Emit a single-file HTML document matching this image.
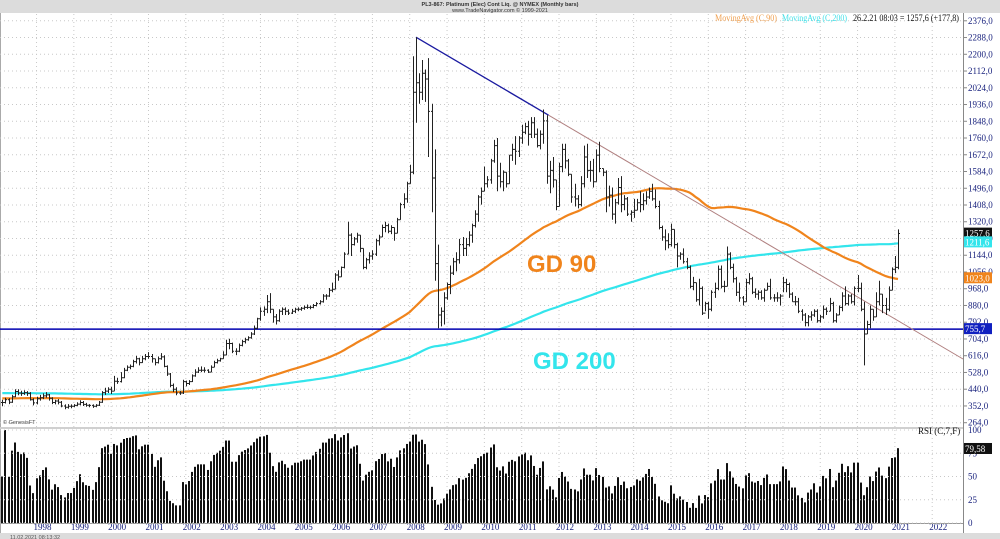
<!DOCTYPE html>
<html><head><meta charset="utf-8">
<style>
body{margin:0;background:#fff;font-family:"Liberation Sans",sans-serif;}
#wrap{position:relative;width:1000px;height:539px;overflow:hidden;background:#fff}
svg{position:absolute;left:0;top:0}
</style></head>
<body>
<div id="wrap">
<svg id="chart" width="1000" height="539"></svg>
</div>
<script>
// ---- data (monthly, Feb 1997 .. Feb 2021) ----
const startYear = 1997, startMonth = 1; // Feb 1997
const closes = [
370,385,372,400,428,420,418,422,418,385,368,
390,395,405,410,392,370,378,372,352,345,350,350,
355,362,370,360,356,355,350,356,372,422,430,440,
430,482,480,500,540,555,560,585,600,580,600,612,
612,600,580,600,610,560,520,460,440,420,420,480,
470,480,510,530,540,540,540,530,555,580,590,600,
620,680,680,640,640,670,690,700,710,730,760,810,
850,860,900,860,820,800,850,860,850,840,850,860,
860,865,870,870,870,880,890,900,930,930,960,965,
1040,1030,1080,1150,1250,1200,1230,1250,1180,1080,1120,1140,
1150,1220,1240,1290,1300,1270,1290,1260,1330,1410,1440,1520,
1580,2000,2050,2000,2100,2070,1900,1550,1100,830,850,920,
990,1050,1110,1120,1200,1180,1200,1250,1300,1360,1450,1480,
1520,1540,1640,1720,1560,1530,1580,1520,1670,1700,1690,1760,
1790,1820,1780,1840,1780,1720,1780,1850,1560,1590,1540,1400,
1610,1700,1640,1570,1450,1440,1410,1520,1660,1590,1590,1530,
1670,1600,1580,1450,1460,1360,1420,1500,1410,1440,1360,1370,
1380,1420,1410,1430,1450,1480,1440,1400,1290,1240,1220,1200,
1280,1200,1140,1150,1110,1080,980,1000,910,970,840,890,
860,950,970,1070,980,980,1150,1080,1020,950,920,900,
1000,1020,950,940,950,920,960,980,920,920,920,930,
1000,990,940,900,900,850,830,790,820,830,850,800,
820,860,850,890,800,830,870,930,890,930,900,970,
970,860,730,780,860,820,900,940,880,860,960,1070,
1080,1258];
const highs = [
385,395,392,410,440,440,432,435,430,425,392,
400,410,418,425,415,398,385,388,378,360,362,360,
362,372,382,378,368,362,360,362,378,430,448,450,
452,510,500,530,552,565,570,595,615,605,615,625,
635,625,600,612,630,618,565,525,470,450,430,490,
485,488,518,545,555,560,555,545,565,590,600,605,
640,700,705,685,655,680,700,710,718,740,775,815,
870,875,935,945,860,835,860,870,870,860,862,868,
870,872,880,885,880,888,898,908,940,940,972,1000,
1050,1065,1085,1160,1320,1260,1240,1262,1250,1180,1130,1160,
1170,1230,1252,1305,1320,1310,1302,1290,1340,1420,1470,1530,
1620,2190,2290,2100,2170,2120,2180,1940,1700,1200,870,950,
1000,1090,1130,1160,1230,1240,1235,1270,1310,1380,1460,1500,
1610,1560,1650,1750,1760,1630,1590,1580,1670,1730,1770,1770,
1830,1840,1850,1870,1870,1810,1800,1910,1880,1640,1660,1540,
1630,1730,1730,1650,1570,1520,1460,1560,1720,1730,1640,1650,
1700,1740,1600,1590,1510,1500,1440,1550,1560,1460,1450,1380,
1440,1440,1480,1470,1480,1500,1520,1490,1430,1300,1280,1260,
1310,1280,1210,1160,1180,1130,1090,1030,1000,1020,980,900,
900,960,1000,1090,1090,1010,1190,1160,1100,1030,1000,930,
1020,1050,1030,970,960,960,970,1000,1020,940,950,940,
1030,1020,1000,950,930,920,860,840,830,850,860,860,
830,880,870,920,900,840,880,950,980,940,940,980,
1040,1000,900,800,880,860,950,1010,940,920,980,1080,
1140,1280];
const lows = [
350,365,362,368,398,408,405,410,405,380,355,
360,380,388,395,380,362,360,360,345,335,338,340,
345,350,356,352,348,345,342,345,352,368,410,420,
415,432,468,475,498,535,545,555,575,565,578,592,
600,580,565,575,595,555,510,450,425,408,410,415,
455,462,478,505,525,530,528,525,530,555,575,585,
600,618,650,630,620,635,665,680,695,705,725,755,
800,825,840,840,790,780,795,830,830,830,835,840,
850,852,858,862,860,865,875,885,895,910,925,950,
965,1010,1030,1075,1150,1140,1195,1210,1160,1070,1070,1100,
1120,1140,1195,1240,1265,1260,1255,1220,1260,1330,1390,1420,
1520,1570,1840,1940,1960,1950,1660,1370,1010,760,770,780,
910,940,1040,1060,1100,1140,1140,1190,1210,1290,1320,1410,
1480,1500,1520,1630,1480,1500,1480,1500,1520,1640,1620,1660,
1730,1780,1720,1760,1760,1710,1700,1730,1520,1470,1500,1380,
1400,1580,1600,1560,1420,1400,1390,1400,1500,1550,1530,1500,
1530,1580,1560,1370,1400,1330,1310,1410,1370,1380,1350,1320,
1340,1380,1370,1380,1410,1440,1430,1390,1280,1220,1170,1180,
1190,1180,1080,1120,1100,1070,970,960,900,880,830,850,
810,850,920,960,970,950,980,1070,1000,930,900,880,
900,990,940,920,910,910,900,960,910,900,900,880,
950,950,920,900,880,840,800,770,770,800,820,790,
790,810,830,850,790,790,830,850,880,880,890,880,
950,850,565,730,760,800,820,880,840,830,850,960,
1050,1070];
// average close of the months before the visible window (seeds the moving averages)
const priorAvg90 = [392];
const priorAvg200 = [420];
const priceTicks = [2376,2288,2200,2112,2024,1936,1848,1760,1672,1584,1496,1408,1320,1232,1144,1056,968,880,792,704,616,528,440,352,264];
const priceTickLabels = priceTicks.map(v => v.toFixed(1).replace('.', ','));
const yearLabels = [1998,1999,2000,2001,2002,2003,2004,2005,2006,2007,2008,2009,2010,2011,2012,2013,2014,2015,2016,2017,2018,2019,2020,2021,2022];
const rsiTicks = [100,75,50,25,0];
const supportLevel = [755.7];
const lastValues = [1257.6, 1211.6, 1023.0, 79.58];

// ---- axes ----
const NS = 'http://www.w3.org/2000/svg';
const svg = document.getElementById('chart');
const PLOT_R = 963;
const nBars = closes.length;
const monthW = 3.11;
function xIdx(i){ return 898 - (nBars - 1 - i) * monthW; }
function xYear(y){ return xIdx((y - startYear) * 12 - startMonth); }
function yP(v){ return 205 + (1408 - v) * 0.1903; }
function yR(v){ return 523 - v * 0.93; }

function mk(tag, attrs, parent){
  const e = document.createElementNS(NS, tag);
  for (const k in attrs) e.setAttribute(k, attrs[k]);
  (parent || svg).appendChild(e);
  return e;
}
function txt(s, x, y, attrs){
  const t = mk('text', Object.assign({x:x, y:y, 'font-family':'"Liberation Sans",sans-serif', 'font-size':9}, attrs||{}));
  t.textContent = s; return t;
}

// header
const hdr = mk('rect', {x:0,y:0,width:1000,height:13,fill:'#dcdcdc'});


const t1 = txt('PL3-867: Platinum (Elec) Cont Liq. @ NYMEX  (Monthly bars)', 500, 6, {'font-size':5.5,'text-anchor':'middle','font-weight':'bold',fill:'#333'});


const t2 = txt('www.TradeNavigator.com © 1999-2021', 500, 12, {'font-size':5.5,'text-anchor':'middle',fill:'#333'});



// right axis strip
const axR = mk('line', {x1:PLOT_R+0.5,y1:13,x2:PLOT_R+0.5,y2:533,stroke:'#888','stroke-width':1});


mk('line', {x1:0.5,y1:13,x2:0.5,y2:533,stroke:'#aaa'});

// grid
priceTicks.forEach((v, k) => {
  const y = yP(v);
  const g = mk('line', {x1:0,y1:y,x2:PLOT_R,y2:y,stroke:'#c8c8c8','stroke-dasharray':'1,3'});
  
  
  mk('line', {x1:PLOT_R,y1:y,x2:PLOT_R+4,y2:y,stroke:'#888'});
  const l = txt(priceTickLabels[k], 968, y+3, {fill:'#1a237e','font-family':'"Liberation Serif",serif','font-size':9});
  
  
});
yearLabels.forEach(yr => {
  const x = xYear(yr);
  const g = mk('line', {x1:x,y1:14,x2:x,y2:523,stroke:'#c8c8c8','stroke-dasharray':'1,3'});
  
  
  const l = txt(String(yr), x+6, 530, {fill:'#1a237e','font-family':'"Liberation Serif",serif','font-size':9,'text-anchor':'middle'});
  
  
});

// panel separator
const sep = mk('rect', {x:0,y:427,width:PLOT_R,height:2,fill:'#d0d0d0'});


mk('line', {x1:0,y1:523.5,x2:PLOT_R,y2:523.5,stroke:'#999'});

// moving averages computed from closes (missing history filled with prior average)
function sma(n, prior){
  return closes.map((c, i) => {
    let sum = 0;
    for (let j = i - n + 1; j <= i; j++) sum += (j >= 0 ? closes[j] : prior);
    return sum / n;
  });
}
const ma200 = sma(200, priorAvg200[0]), ma90 = sma(90, priorAvg90[0]);
function polyPts(arr){ return arr.map((v,i) => xIdx(i).toFixed(1)+','+yP(v).toFixed(1)).join(' '); }
const m2 = mk('polyline', {points:polyPts(ma200),fill:'none',stroke:'#33e5ec','stroke-width':2.2});


const m9 = mk('polyline', {points:polyPts(ma90),fill:'none',stroke:'#f0841c','stroke-width':2.2});



// support line
const sy = yP(supportLevel[0]);
const sl = mk('line', {x1:0,y1:sy,x2:PLOT_R,y2:sy,stroke:'#0000b0','stroke-width':1.5});



// trendline: peak -> 2011 high, then extension
const iPeak = 133, iT2 = 175;
const ax1 = xIdx(iPeak), ay1 = yP(highs[iPeak]), ax2 = xIdx(iT2)+2, ay2 = yP(1880);
const tl = mk('line', {x1:ax1,y1:ay1,x2:ax2,y2:ay2,stroke:'#1a1aa0','stroke-width':1.3});


const slope = (ay2-ay1)/(ax2-ax1);
const te = mk('line', {x1:ax2,y1:ay2,x2:PLOT_R,y2:ay2+slope*(PLOT_R-ax2),stroke:'#b08080','stroke-width':1});



// OHLC bars
const barG = mk('g', {stroke:'#222','stroke-width':1});


closes.forEach((c, i) => {
  const o = i ? closes[i-1] : c;
  const x = Math.round(xIdx(i)) + 0.5;
  const b = mk('path', {d:`M${x},${yP(highs[i]).toFixed(1)}V${yP(lows[i]).toFixed(1)}M${x-1.5},${yP(o).toFixed(1)}H${x}M${x},${yP(c).toFixed(1)}H${x+1.5}`}, barG);
  
  
});

// RSI(7) Wilder
const rsi = [];
(function(){
  let ag = 0, al = 0; const n = 7;
  closes.forEach((c, i) => {
    if (i === 0) { rsi.push(50); return; }
    const d = c - closes[i-1], g = Math.max(d,0), l = Math.max(-d,0);
    ag = (ag*(n-1)+g)/n; al = (al*(n-1)+l)/n;
    rsi.push(al === 0 ? 100 : 100 - 100/(1+ag/al));
  });
})();
const rG = mk('g', {fill:'#111'});


rsi.forEach((v, i) => {
  const x = Math.round(xIdx(i)) - 1;
  const r = mk('rect', {x:x,y:yR(v),width:2,height:523-yR(v)}, rG);
  
  
});
rsiTicks.forEach(v => {
  const y = yR(v);
  mk('line', {x1:0,y1:y,x2:PLOT_R,y2:y,stroke:'#c8c8c8','stroke-dasharray':'1,3'});
  const l = txt(String(v), 968, y+3, {fill:'#1a237e','font-family':'"Liberation Serif",serif','font-size':9});
  
  
});
const rl = txt('RSI (C,7,F)', 918, 434, {'font-family':'"Liberation Serif",serif','font-size':9,fill:'#111'});



// value tags
function tag(val, y, bg, fg, name){
  const r = mk('rect', {x:964,y:y-6,width:28,height:11,fill:bg});
  
  
  txt(val.toFixed(name==='rsi-value-tag'?2:1).replace('.',','), 965, y+3, {fill:fg,'font-family':'"Liberation Serif",serif','font-size':9});
}
tag(lastValues[0], yP(lastValues[0]), '#111', '#fff', 'last-price-tag');
tag(lastValues[1], yP(lastValues[1]), '#33e5ec', '#fff', 'ma200-tag');
tag(lastValues[2], yP(lastValues[2]), '#f0841c', '#fff', 'ma90-tag');
tag(supportLevel[0], sy, '#1020c0', '#fff', 'support-tag');
tag(lastValues[3], yR(lastValues[3]), '#111', '#fff', 'rsi-value-tag');

// legend
const lg1 = txt('MovingAvg (C,90)', 715, 21, {fill:'#f0a050','font-family':'"Liberation Serif",serif','font-size':9,textLength:62,lengthAdjust:'spacingAndGlyphs'});


const lg2 = txt('MovingAvg (C,200)', 782, 21, {fill:'#40e0e8','font-family':'"Liberation Serif",serif','font-size':9,textLength:65,lengthAdjust:'spacingAndGlyphs'});


const lg3 = txt('26.2.21 08:03 = 1257,6 (+177,8)', 853, 21, {fill:'#111','font-family':'"Liberation Serif",serif','font-size':9,textLength:106,lengthAdjust:'spacingAndGlyphs'});



// annotations
const a1 = txt('GD 90', 527, 272, {fill:'#f0841c','font-size':24,'font-weight':'bold'});


const a2 = txt('GD 200', 533, 369, {fill:'#33e5ec','font-size':24,'font-weight':'bold'});


const gf = txt('© GenesisFT', 3, 424, {fill:'#444','font-size':5.5});



// status bar
const sb = mk('rect', {x:0,y:533,width:1000,height:6,fill:'#dcdcdc'});


const st = txt('11.02.2021 08:13:32', 10, 539, {'font-size':5.5,fill:'#555'});


</script>
</body></html>
